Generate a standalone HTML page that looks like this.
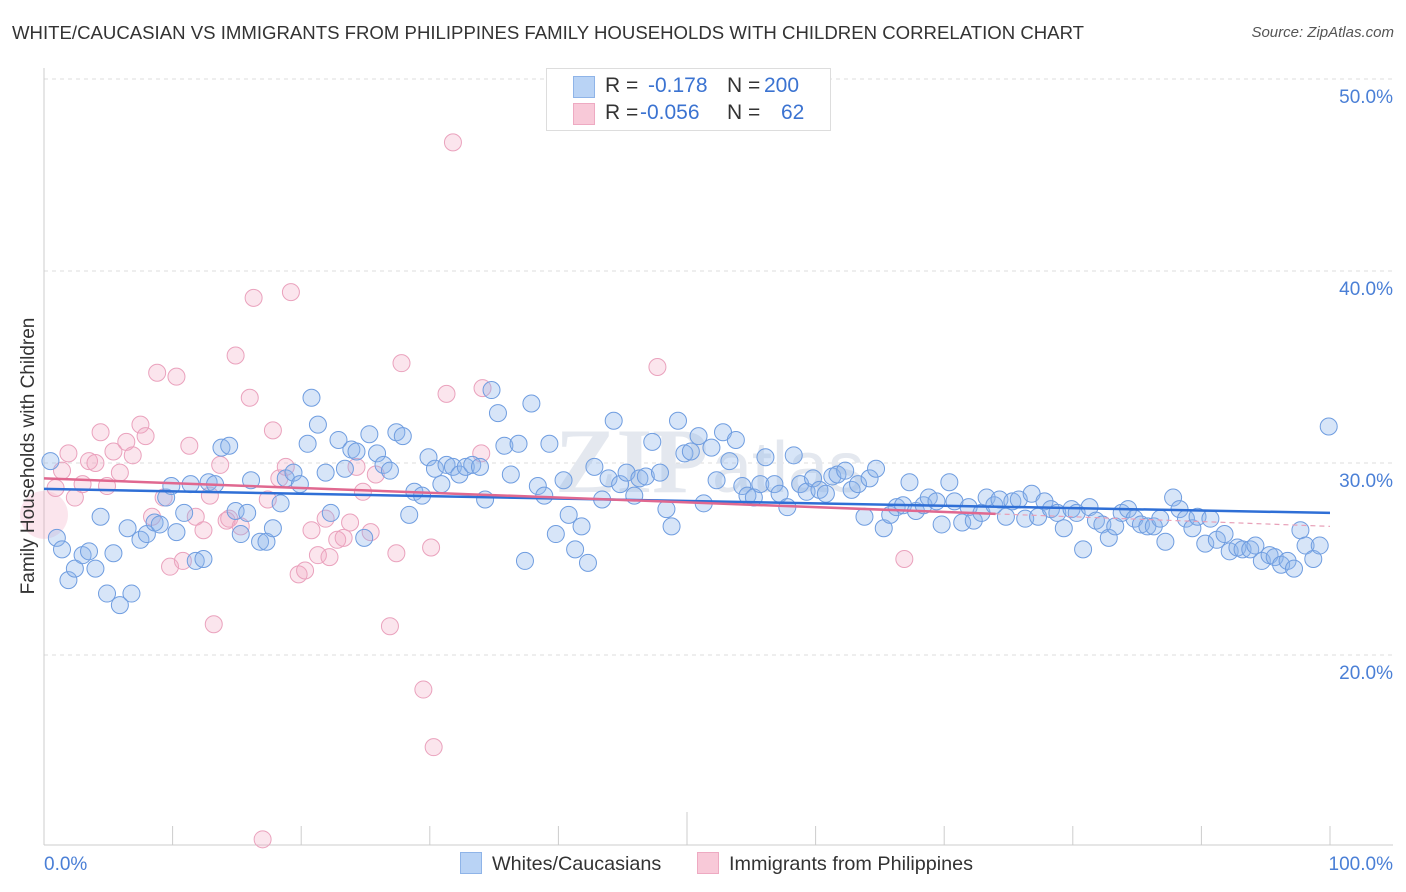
<!DOCTYPE html>
<html><head><meta charset="utf-8"><style>
body{margin:0;background:#fff;font-family:"Liberation Sans",sans-serif;}
#wrap{position:relative;width:1406px;height:892px;overflow:hidden;}
.t{position:absolute;white-space:nowrap;}
</style></head><body>
<div id="wrap">
<div class="t" style="left:12px;top:22px;font-size:18.6px;color:#333;">WHITE/CAUCASIAN VS IMMIGRANTS FROM PHILIPPINES FAMILY HOUSEHOLDS WITH CHILDREN CORRELATION CHART</div>
<div class="t" style="right:12px;top:24px;font-size:15px;color:#555;font-style:italic;">Source: ZipAtlas.com</div>
<svg id="svg" width="1406" height="892" style="position:absolute;left:0;top:0"></svg>
</div>
<script>
const blueX=[0.5,1.0,1.4,1.9,2.4,3.0,3.5,4.0,4.4,4.9,5.4,5.9,6.5,6.8,7.5,8.0,8.6,9.0,9.5,9.9,10.3,10.9,11.4,11.8,12.4,12.8,13.3,13.8,14.4,14.9,15.3,15.8,16.1,16.8,17.3,17.8,18.4,18.8,19.4,19.9,20.5,20.8,21.3,21.9,22.3,22.9,23.4,23.9,24.3,24.9,25.3,25.9,26.4,26.9,27.4,27.9,28.4,28.8,29.4,29.9,30.4,30.9,31.3,31.8,32.3,32.8,33.3,33.9,34.3,34.8,35.3,35.8,36.3,36.9,37.4,37.9,38.4,38.9,39.3,39.8,40.4,40.8,41.3,41.8,42.3,42.8,43.4,43.9,44.3,44.8,45.3,45.9,46.3,46.8,47.3,47.9,48.4,48.8,49.3,49.8,50.3,50.9,51.3,51.9,52.3,52.8,53.3,53.8,54.3,54.7,55.2,55.7,56.1,56.8,57.2,57.8,58.3,58.8,59.3,59.8,60.3,60.8,61.3,61.7,62.3,62.8,63.3,63.8,64.2,64.7,65.3,65.8,66.3,66.8,67.3,67.8,68.4,68.8,69.4,69.8,70.4,70.8,71.4,71.9,72.3,72.9,73.3,73.9,74.3,74.8,75.3,75.8,76.3,76.8,77.3,77.8,78.3,78.8,79.3,79.9,80.3,80.8,81.3,81.8,82.3,82.8,83.3,83.8,84.3,84.8,85.3,85.8,86.3,86.8,87.2,87.8,88.3,88.8,89.3,89.7,90.3,90.7,91.2,91.8,92.2,92.8,93.2,93.8,94.2,94.7,95.3,95.7,96.2,96.7,97.2,97.7,98.1,98.7,99.2,99.9];
const blueY=[30.1,26.1,25.5,23.9,24.5,25.2,25.4,24.5,27.2,23.2,25.3,22.6,26.6,23.2,26.0,26.3,26.9,26.8,28.2,28.8,26.4,27.4,28.9,24.9,25.0,29.0,28.9,30.8,30.9,27.5,26.3,27.4,29.1,25.9,25.9,26.6,27.9,29.2,29.5,28.9,31.0,33.4,32.0,29.5,27.4,31.2,29.7,30.7,30.6,26.1,31.5,30.5,29.9,29.6,31.6,31.4,27.3,28.5,28.3,30.3,29.7,28.9,29.9,29.8,29.4,29.8,29.9,29.8,28.1,33.8,32.6,30.9,29.4,31.0,24.9,33.1,28.8,28.3,31.0,26.3,29.1,27.3,25.5,26.7,24.8,29.8,28.1,29.2,32.2,28.9,29.5,28.3,29.2,29.3,31.1,29.5,27.6,26.7,32.2,30.5,30.6,31.4,27.9,30.8,29.1,31.6,30.1,31.2,28.8,28.3,28.2,28.9,30.3,28.9,28.4,27.7,30.4,28.9,28.5,29.2,28.6,28.4,29.3,29.4,29.6,28.6,28.9,27.2,29.2,29.7,26.6,27.3,27.7,27.8,29.0,27.5,27.8,28.2,28.0,26.8,29.0,28.0,26.9,27.7,27.0,27.4,28.2,27.8,28.1,27.2,28.0,28.1,27.1,28.4,27.2,28.0,27.6,27.4,26.6,27.6,27.4,25.5,27.7,27.0,26.8,26.1,26.7,27.4,27.6,27.1,26.8,26.7,26.7,27.1,25.9,28.2,27.6,27.1,26.6,27.2,25.8,27.1,26.0,26.3,25.4,25.6,25.5,25.5,25.7,24.9,25.2,25.1,24.7,24.9,24.5,26.5,25.7,25.0,25.7,31.9];
const pinkX=[0.9,1.4,1.9,2.4,3.0,3.5,4.0,4.4,4.9,5.4,5.9,6.4,6.9,7.5,7.9,8.4,8.8,9.3,9.8,10.3,10.8,11.3,11.8,12.4,12.9,13.2,13.7,14.2,14.4,14.9,15.3,16.0,16.3,17.4,17.8,18.3,18.8,19.2,19.8,20.3,20.8,21.3,21.9,22.2,22.8,23.3,23.8,24.3,24.8,25.4,25.8,26.9,27.4,27.8,29.5,30.1,30.3,31.3,31.8,34.0,34.1,47.7,66.9,17.0];
const pinkY=[28.7,29.6,30.5,28.2,28.9,30.1,30.0,31.6,28.8,30.6,29.5,31.1,30.4,32.0,31.4,27.2,34.7,28.2,24.6,34.5,24.9,30.9,27.2,26.5,28.3,21.6,29.9,27.0,27.1,35.6,26.7,33.4,38.6,28.1,31.7,29.2,29.8,38.9,24.2,24.4,26.5,25.2,27.1,25.1,26.0,26.1,26.9,29.8,28.5,26.4,29.4,21.5,25.3,35.2,18.2,25.6,15.2,33.6,46.7,30.5,33.9,35.0,25.0,10.4];
const blueTrend=[28.65,27.4];
const pinkTrend=[29.2,26.7];
const yTicks=[20,30,40,50];
const xTickLabels=["0.0%","100.0%"];

const NS="http://www.w3.org/2000/svg";
const svg=document.getElementById('svg');
const X0=44,X1=1330,Y50=79,PX=19.2;
const sx=v=>X0+(X1-X0)*v/100;
const sy=v=>Y50+(50-v)*PX;
function mk(tag,at){const e=document.createElementNS(NS,tag);for(const k in at)e.setAttribute(k,at[k]);svg.appendChild(e);return e;}
yTicks.forEach(t=>{
  const g=mk('line',{x1:X0,x2:1393,y1:sy(t),y2:sy(t),stroke:'#ddd','stroke-dasharray':'4 4'});
  
  
  const l=mk('text',{x:1393,y:sy(t)+24,'text-anchor':'end','font-size':19,fill:'#4a7fd6','font-family':'Liberation Sans'});
  l.textContent=t.toFixed(1)+'%';
  
  
});
const ya=mk('line',{x1:X0,x2:X0,y1:68,y2:845,stroke:'#ccc'});


const xa=mk('line',{x1:X0,x2:1393,y1:845,y2:845,stroke:'#ccc'});


for(let i=0;i<=10;i++){
  const tk=mk('line',{x1:sx(i*10),x2:sx(i*10),y1:i==5?812:826,y2:845,stroke:'#ccc'});
  
  
}
[[0,'start',44],[1,'end',1393]].forEach(([i,a,x])=>{
  const l=mk('text',{x:x,y:870,'text-anchor':a,'font-size':19,fill:'#4a7fd6','font-family':'Liberation Sans'});
  l.textContent=xTickLabels[i];
  
  
});
const wm=mk('text',{x:555,y:492,'font-size':92,fill:'#e4e8ef','font-family':'Liberation Serif','font-weight':'bold'});
wm.textContent='ZIP';


const wm2=mk('text',{x:712,y:492,'font-size':72,fill:'#e4e8ef','font-family':'Liberation Sans'});
wm2.textContent='atlas';


const bb=mk('circle',{cx:sx(0),cy:sy(27.3),r:24,fill:'rgba(240,160,190,0.28)',stroke:'none'});


pinkX.forEach((x,i)=>{
  const c=mk('circle',{cx:sx(x),cy:sy(pinkY[i]),r:8.5,fill:'rgba(243,170,195,0.3)',stroke:'#eaa2bd','stroke-width':1});
  
  
});
blueX.forEach((x,i)=>{
  const c=mk('circle',{cx:sx(x),cy:sy(blueY[i]),r:8.5,fill:'rgba(140,180,235,0.35)',stroke:'#6f9de0','stroke-width':1});
  
  
});
const bt=mk('line',{x1:sx(0),y1:sy(blueTrend[0]),x2:sx(100),y2:sy(blueTrend[1]),stroke:'#2f6fd6','stroke-width':2.5});


const py=v=>pinkTrend[0]+(pinkTrend[1]-pinkTrend[0])*v/100;
const pt=mk('line',{x1:sx(0),y1:sy(py(0)),x2:sx(74),y2:sy(py(74)),stroke:'#e06890','stroke-width':2.5});


const pd=mk('line',{x1:sx(74),y1:sy(py(74)),x2:sx(100),y2:sy(py(100)),stroke:'#e8a0b8','stroke-width':1.2,'stroke-dasharray':'5 4'});


const yt=mk('text',{x:0,y:0,transform:'translate(34,456) rotate(-90)','text-anchor':'middle','font-size':19,fill:'#333','font-family':'Liberation Sans'});
yt.textContent='Family Households with Children';


</script>
<div class="t" style="left:546px;top:68px;width:283px;height:61px;border:1px solid #ddd;background:#fff;font-size:21px;">
 <div style="position:absolute;left:26px;top:7px;width:20px;height:20px;background:#b9d3f5;border:1px solid #8fb4e8;"></div>
 <div class="t" style="left:58px;top:5px;color:#333;">R =</div>
 <div class="t" style="left:101px;top:5px;color:#3b73d1;">-0.178</div>
 <div class="t" style="left:180px;top:5px;color:#333;">N =</div>
 <div class="t" style="left:217px;top:5px;color:#3b73d1;">200</div>
 <div style="position:absolute;left:26px;top:34px;width:20px;height:20px;background:#f8c9d8;border:1px solid #eeaac2;"></div>
 <div class="t" style="left:58px;top:32px;color:#333;">R =</div>
 <div class="t" style="left:93px;top:32px;color:#3b73d1;">-0.056</div>
 <div class="t" style="left:180px;top:32px;color:#333;">N =</div>
 <div class="t" style="left:234px;top:32px;color:#3b73d1;">62</div>
</div>
<div class="t" style="left:460px;top:852px;font-size:19.8px;color:#333;"><span style="display:inline-block;width:20px;height:20px;background:#b9d3f5;border:1px solid #8fb4e8;vertical-align:-4px;margin-right:10px;"></span>Whites/Caucasians</div>
<div class="t" style="left:697px;top:852px;font-size:19.8px;color:#333;"><span style="display:inline-block;width:20px;height:20px;background:#f8c9d8;border:1px solid #eeaac2;vertical-align:-4px;margin-right:10px;"></span>Immigrants from Philippines</div>
</body></html>
